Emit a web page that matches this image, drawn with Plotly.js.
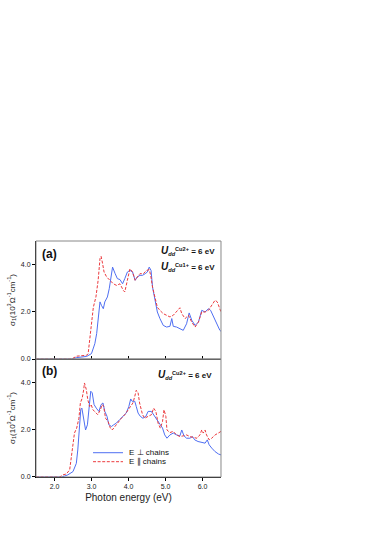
<!DOCTYPE html>
<html>
<head>
<meta charset="utf-8">
<script src="https://cdn.plot.ly/plotly-3.0.1.min.js"></script>
<style>
  body { margin: 0; background: #fff; }
  #plot { width: 382px; height: 541px; }
</style>
</head>
<body>
<div id="plot"></div>
<script>
// panel (a): E perpendicular / parallel to chains
let ePerpA = [1.5, 2.46, 2.6, 2.87, 3.0, 3.09, 3.14, 3.18, 3.23, 3.27, 3.32, 3.36, 3.43, 3.48, 3.52, 3.57, 3.64, 3.7, 3.77, 3.84, 3.9, 3.97, 4.04, 4.11, 4.18, 4.24, 4.31, 4.38, 4.45, 4.51, 4.56, 4.61, 4.65, 4.72, 4.78, 4.85, 4.94, 5.03, 5.12, 5.17, 5.21, 5.3, 5.39, 5.48, 5.57, 5.64, 5.71, 5.8, 5.89, 5.98, 6.07, 6.16, 6.22, 6.3, 6.39, 6.47, 6.5];
let sPerpA = [0, 0, 0.06, 0.11, 0.23, 0.65, 1.08, 1.79, 2.43, 2.28, 2.14, 2.43, 2.64, 2.99, 3.49, 3.91, 3.63, 3.42, 3.38, 3.2, 3.42, 3.7, 3.77, 3.7, 3.35, 3.49, 3.56, 3.56, 3.63, 3.7, 3.91, 3.77, 3.06, 2.5, 2.0, 1.72, 1.43, 1.36, 1.39, 1.72, 1.39, 1.36, 1.29, 1.22, 1.5, 1.96, 1.65, 1.43, 1.57, 2.07, 2.0, 2.14, 2.07, 1.79, 1.5, 1.22, 1.18];
let eParaA = [1.5, 2.46, 2.6, 2.75, 2.87, 2.91, 2.98, 3.05, 3.12, 3.18, 3.23, 3.26, 3.3, 3.34, 3.41, 3.5, 3.59, 3.68, 3.77, 3.86, 3.9, 3.97, 4.04, 4.11, 4.18, 4.24, 4.31, 4.4, 4.49, 4.56, 4.6, 4.65, 4.72, 4.78, 4.85, 4.94, 5.03, 5.12, 5.21, 5.3, 5.39, 5.44, 5.53, 5.62, 5.71, 5.8, 5.89, 5.98, 6.07, 6.16, 6.25, 6.34, 6.4, 6.47, 6.5];
let sParaA = [0, 0, 0.12, 0.15, 0.16, 0.23, 1.22, 2.2, 2.64, 3.35, 4.27, 4.37, 4.06, 3.7, 3.49, 3.35, 3.2, 3.13, 3.2, 2.92, 2.85, 3.35, 3.84, 3.7, 3.35, 3.49, 3.63, 3.63, 3.77, 3.8, 3.56, 3.06, 2.64, 2.2, 2.07, 1.93, 1.86, 1.79, 1.86, 2.0, 2.18, 1.93, 1.72, 1.86, 1.57, 1.36, 1.57, 2.0, 2.0, 2.07, 2.28, 2.5, 2.43, 2.07, 2.0];

// panel (b)
let ePerpB = [1.5, 2.2, 2.27, 2.36, 2.5, 2.59, 2.63, 2.68, 2.71, 2.74, 2.79, 2.84, 2.89, 2.93, 2.98, 3.02, 3.07, 3.13, 3.2, 3.26, 3.31, 3.36, 3.42, 3.47, 3.54, 3.6, 3.67, 3.76, 3.85, 3.94, 4.01, 4.06, 4.1, 4.17, 4.21, 4.26, 4.32, 4.39, 4.47, 4.53, 4.62, 4.68, 4.76, 4.85, 4.92, 4.98, 5.04, 5.12, 5.21, 5.3, 5.39, 5.44, 5.5, 5.57, 5.66, 5.73, 5.79, 5.88, 5.97, 6.07, 6.13, 6.18, 6.25, 6.34, 6.43, 6.5];
let sPerpB = [0, 0, 0.04, 0.09, 0.23, 0.58, 1.15, 2.15, 2.86, 2.93, 2.44, 2.0, 2.22, 2.86, 3.65, 3.58, 3.08, 2.93, 2.79, 3.08, 3.15, 2.79, 2.58, 2.22, 2.15, 2.22, 2.29, 2.44, 2.58, 2.72, 3.0, 3.32, 3.22, 3.22, 3.0, 2.72, 2.58, 2.5, 2.58, 2.79, 2.79, 2.65, 2.44, 2.22, 2.08, 1.79, 1.65, 1.79, 1.87, 1.79, 1.75, 2.0, 1.75, 1.65, 1.65, 1.72, 1.58, 1.51, 1.47, 1.44, 1.58, 1.37, 1.23, 1.08, 0.98, 0.94];
let eParaB = [1.5, 2.14, 2.23, 2.32, 2.41, 2.45, 2.5, 2.54, 2.6, 2.66, 2.7, 2.75, 2.79, 2.81, 2.86, 2.9, 2.95, 2.99, 3.04, 3.11, 3.17, 3.24, 3.29, 3.33, 3.38, 3.45, 3.51, 3.56, 3.63, 3.72, 3.81, 3.9, 3.99, 4.06, 4.12, 4.17, 4.21, 4.26, 4.3, 4.38, 4.44, 4.53, 4.62, 4.68, 4.74, 4.8, 4.86, 4.92, 4.96, 5.01, 5.04, 5.12, 5.21, 5.3, 5.39, 5.48, 5.57, 5.66, 5.75, 5.85, 5.93, 5.98, 6.02, 6.07, 6.11, 6.18, 6.25, 6.34, 6.43, 6.5];
let sParaB = [0, 0, 0.09, 0.13, 0.3, 0.87, 1.58, 1.87, 2.08, 2.5, 3.15, 3.36, 3.72, 4.0, 3.72, 3.29, 3.0, 3.08, 2.86, 2.72, 2.65, 2.86, 3.08, 3.0, 2.5, 2.36, 2.08, 2.0, 2.15, 2.36, 2.5, 2.65, 2.86, 3.0, 3.15, 3.43, 3.69, 3.58, 3.15, 2.65, 2.5, 2.58, 2.65, 2.93, 2.79, 2.29, 2.08, 2.36, 2.86, 2.58, 2.0, 1.89, 1.94, 1.79, 1.72, 1.75, 1.79, 1.72, 1.7, 1.65, 1.79, 2.0, 1.87, 2.0, 1.79, 1.58, 1.65, 1.79, 1.87, 1.94];

let xTicks = [2, 3, 4, 5, 6];
let yTicks = [0, 2, 4];
let legendNames = ["E \u22a5 chains", "E \u2225 chains"];

let blue = "#4f6ff2";
let red = "#ec3a3e";
let redDash = "3px,1.6px";
let font = "Liberation Sans, Arial, sans-serif";

let xDom = [0.0942, 0.5785];
let yDomA = [0.3364, 0.5545];
let yDomB = [0.1183, 0.3364];
let ytitle = "\u03c3<sub>1</sub>(10<sup>3</sup>\u03a9<sup>-1</sup>cm<sup>-1</sup>)";

let data = [
  { x: ePerpA, y: sPerpA, xaxis: "x", yaxis: "y", mode: "lines", line: { color: blue, width: 1 } },
  { x: eParaA, y: sParaA, xaxis: "x", yaxis: "y", mode: "lines", line: { color: red, width: 1, dash: redDash } },
  { x: ePerpB, y: sPerpB, xaxis: "x2", yaxis: "y2", mode: "lines", line: { color: blue, width: 1 }, name: legendNames[0] },
  { x: eParaB, y: sParaB, xaxis: "x2", yaxis: "y2", mode: "lines", line: { color: red, width: 1, dash: redDash }, name: legendNames[1] },
];

function xAxis(anchor, opts) {
  return Object.assign({
    domain: xDom, range: [1.5, 6.5], anchor: anchor,
    tickvals: xTicks, tickformat: ".1f", ticklen: 3, tickcolor: "#000",
    showline: true, linecolor: "#000", linewidth: 1,
    showgrid: false, zeroline: false,
    tickfont: { family: font, size: 7, color: "#222" },
  }, opts);
}

function yAxis(dom, anchor) {
  return {
    domain: dom, range: [0, 5.02], anchor: anchor,
    tickvals: yTicks, tickformat: ".1f", ticks: "outside", ticklen: 3, tickcolor: "#000",
    showline: true, linecolor: "#000", linewidth: 1,
    showgrid: false, zeroline: false,
    tickfont: { family: font, size: 7, color: "#222" },
    title: { text: ytitle, font: { family: font, size: 8, color: "#222" }, standoff: 4 },
  };
}

// legend drawn by hand so the rows sit as close as in the original
let legX0 = 0.2435, legX1 = 0.322, legTextX = 0.3325;
let legY = [0.1632, 0.1466];

function label(text, x, y, size, xanchor) {
  return { text: text, xref: "paper", yref: "paper", x: x, y: y, xanchor: xanchor, yanchor: "middle",
    showarrow: false, font: { family: font, size: size, color: "#111" } };
}

function udd(ion) {
  return "<b><i><span style='font-size:10px'>U</span></i><sub><i>dd</i></sub><sup>" + ion + "</sup> = 6 eV</b>";
}

let layout = {
  width: 382, height: 541,
  margin: { l: 0, r: 0, t: 0, b: 0 },
  paper_bgcolor: "#fff", plot_bgcolor: "#fff",
  font: { family: font, color: "#222" },
  showlegend: false,
  xaxis: xAxis("y", { ticks: "inside", showticklabels: false }),
  yaxis: yAxis(yDomA, "x"),
  xaxis2: xAxis("y2", { ticks: "outside",
    title: { text: "Photon energy (eV)", font: { family: font, size: 10, color: "#222" }, standoff: 4 } }),
  xaxis3: xAxis("y2", { ticks: "inside", showticklabels: false, overlaying: "x2", matches: "x2" }),
  yaxis2: yAxis(yDomB, "x2"),
  shapes: [
    { type: "rect", xref: "paper", yref: "paper", x0: xDom[0], x1: xDom[1], y0: yDomA[0], y1: yDomA[1], line: { color: "#888", width: 1 } },
    { type: "rect", xref: "paper", yref: "paper", x0: xDom[0], x1: xDom[1], y0: yDomB[0], y1: yDomB[1], line: { color: "#888", width: 1 } },
    { type: "line", xref: "paper", yref: "paper", x0: legX0, x1: legX1, y0: legY[0], y1: legY[0], line: { color: blue, width: 1 } },
    { type: "line", xref: "paper", yref: "paper", x0: legX0, x1: legX1, y0: legY[1], y1: legY[1], line: { color: red, width: 1, dash: redDash } },
  ],
  annotations: [
    label("<b>(a)</b>", 0.1296, 0.5305, 12, "center"),
    label("<b>(b)</b>", 0.1296, 0.3142, 12, "center"),
    label(udd("Cu2+"), 0.567, 0.5366, 8, "right"),
    label(udd("Cu1+"), 0.567, 0.5065, 8, "right"),
    label(udd("Cu2+"), 0.560, 0.3068, 8, "right"),
    label(legendNames[0], legTextX, legY[0], 8, "left"),
    label(legendNames[1], legTextX, legY[1], 8, "left"),
  ],
};

Plotly.newPlot("plot", data, layout, { displayModeBar: false, staticPlot: true });
</script>
</body>
</html>
